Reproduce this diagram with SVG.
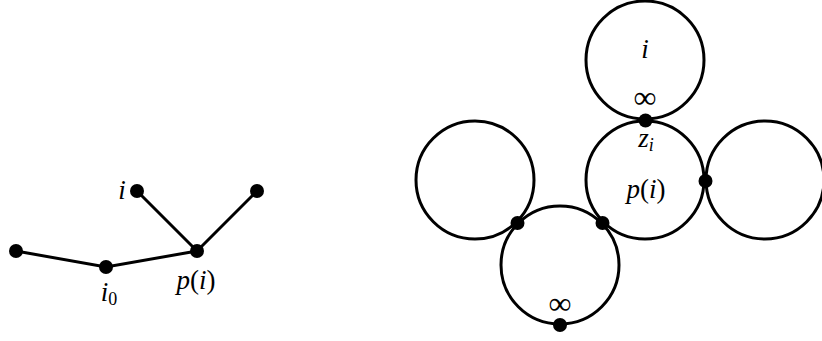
<svg xmlns="http://www.w3.org/2000/svg" width="822" height="341" viewBox="0 0 822 341">
<style>
.e{stroke:#000;stroke-width:3;fill:none;stroke-linecap:round}
.c{stroke:#000;stroke-width:3;fill:none}
.d{fill:#000}
.t{font-family:'Liberation Serif','Times New Roman',serif;font-size:27px;fill:#000;text-anchor:middle}
.it{font-style:italic}
.sub{font-size:18px}
.inf{font-size:32px}
</style>
<rect width="822" height="341" fill="#fff"/>
<g id="connectors">
<polyline class="e" points="16,251 106,267 197,251"/>
<line class="e" x1="197" y1="251" x2="137" y2="191"/>
<line class="e" x1="197" y1="251" x2="257" y2="191"/>
</g>
<g id="tree-nodes">
<g id="n-left"><circle class="d" cx="16" cy="251" r="7"/></g>
<g id="n-i0"><circle class="d" cx="106" cy="267" r="7"/><text class="t" x="109" y="301"><tspan class="it">i</tspan><tspan class="sub" dy="4">0</tspan></text></g>
<g id="n-pi"><circle class="d" cx="197" cy="251" r="7"/><text class="t" x="196" y="289"><tspan class="it">p</tspan>(<tspan class="it">i</tspan>)</text></g>
<g id="n-i"><circle class="d" cx="137" cy="191" r="7"/><text class="t it" x="122" y="199">i</text></g>
<g id="n-right"><circle class="d" cx="257" cy="191" r="7"/></g>
</g>
<g id="circles">
<g id="c-top"><circle class="c" cx="645" cy="60" r="59"/><text class="t it" x="645" y="58">i</text><text class="t inf" x="645" y="108">∞</text></g>
<g id="c-pi"><circle class="c" cx="645" cy="180" r="59"/><text class="t" x="646" y="198"><tspan class="it">p</tspan>(<tspan class="it">i</tspan>)</text><text class="t" x="646" y="147"><tspan class="it">z</tspan><tspan class="it sub" dy="4">i</tspan></text></g>
<g id="c-right"><circle class="c" cx="765" cy="180" r="59"/></g>
<g id="c-left"><circle class="c" cx="475" cy="180" r="59"/></g>
<g id="c-bottom"><circle class="c" cx="560" cy="265" r="59"/><text class="t inf" x="560" y="314">∞</text></g>
<g id="dots">
<circle class="d" cx="645.5" cy="120.5" r="7"/>
<circle class="d" cx="705.5" cy="181" r="7"/>
<circle class="d" cx="517.5" cy="223" r="7"/>
<circle class="d" cx="602.5" cy="223" r="7"/>
<circle class="d" cx="560" cy="325" r="7"/>
</g>
</g>
</svg>
